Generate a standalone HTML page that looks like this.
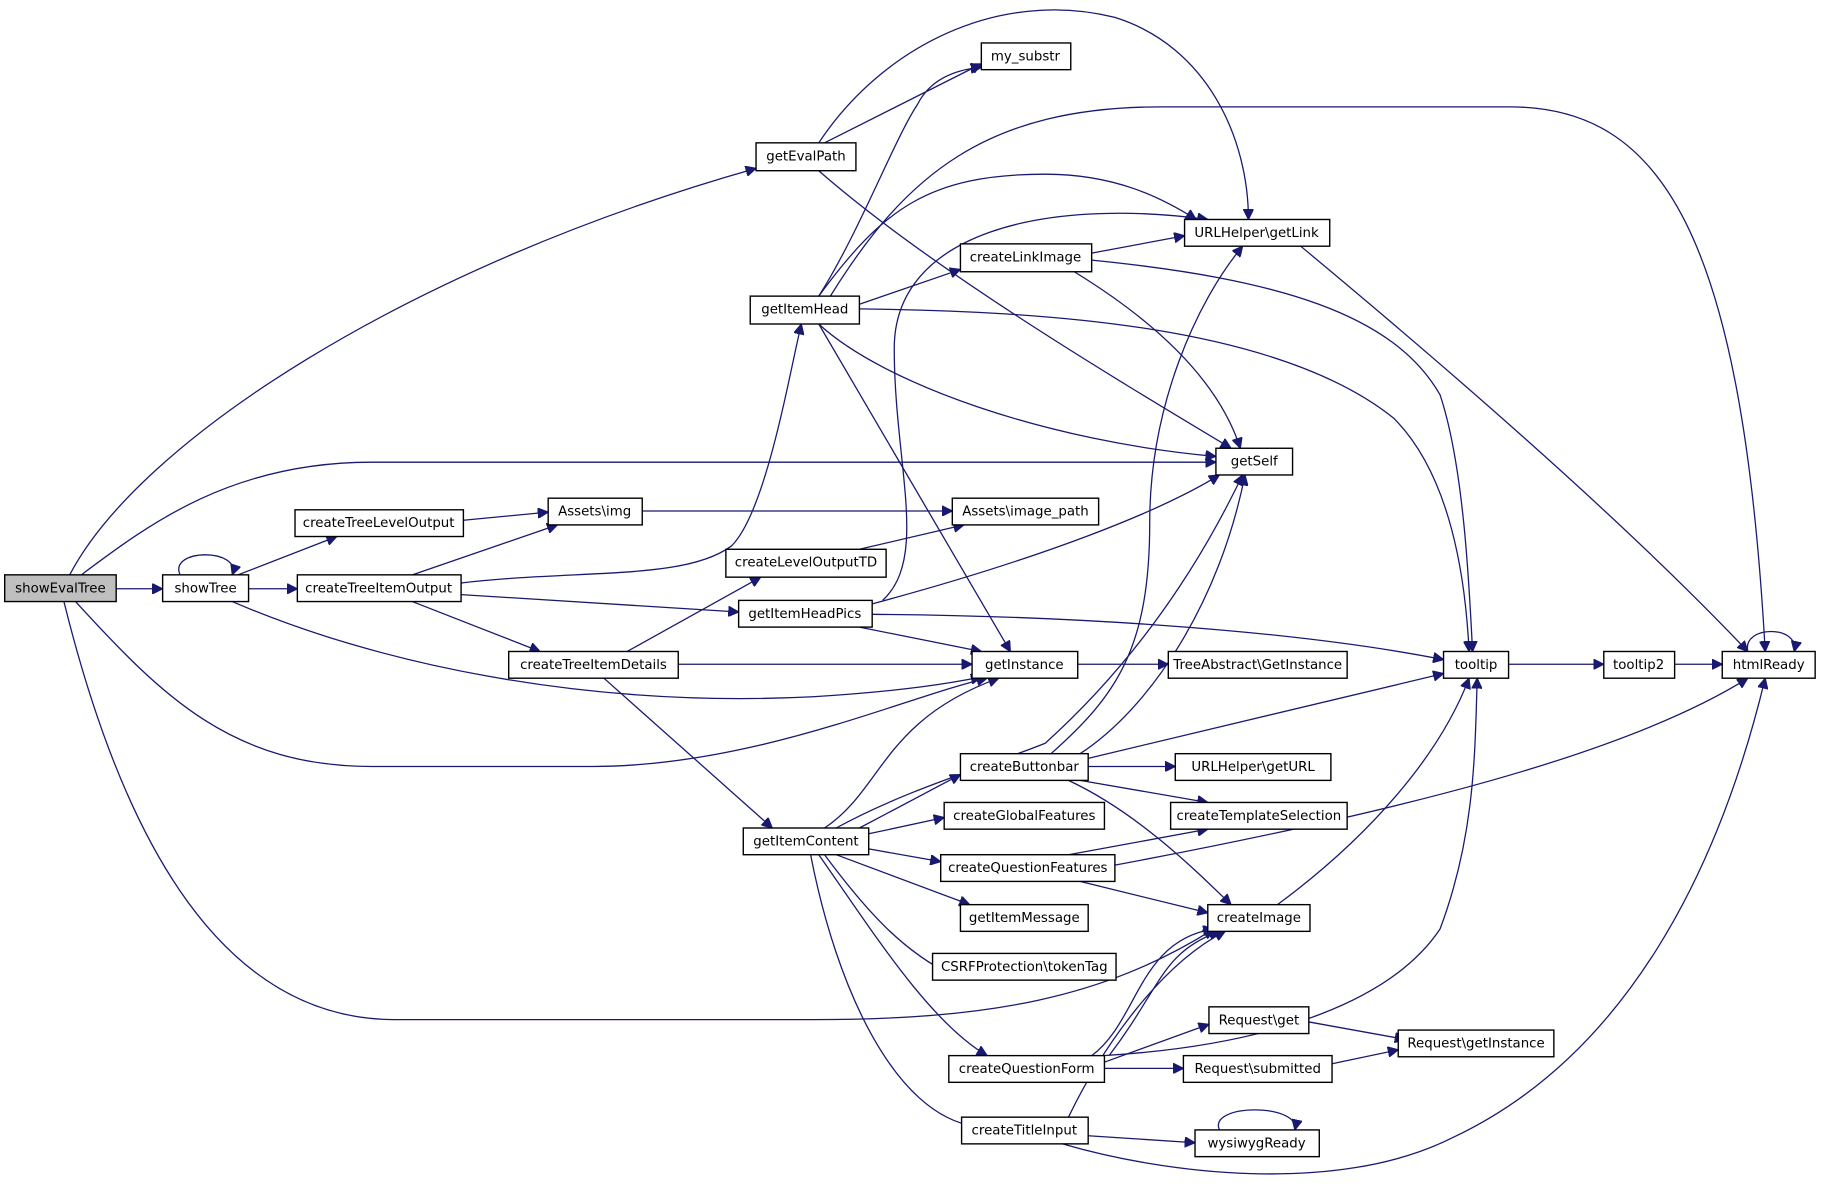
<!DOCTYPE html>
<html><head><meta charset="utf-8"><style>
html,body{margin:0;padding:0;background:#fff;}
svg{display:block}
text{font-family:"DejaVu Sans","Liberation Sans",sans-serif;font-size:11.5px;fill:#000;text-anchor:middle;dominant-baseline:central}
rect{fill:#fff;stroke:#000;stroke-width:1.2}
path{fill:none;stroke:#191970;stroke-width:1.1}
</style></head><body>
<svg width="1821" height="1188" viewBox="0 0 1568 1023" xmlns="http://www.w3.org/2000/svg">
<defs><marker id="a" viewBox="0 0 10 10" refX="10" refY="5" markerWidth="9" markerHeight="9" markerUnits="userSpaceOnUse" orient="auto"><path d="M0,0 L10,5 L0,10 z" style="fill:#191970;stroke:#191970"/></marker></defs>
<g marker-end="url(#a)">
<path d="M100,507 L140,507"/>
<path d="M60,495 C120,380 350,230 651,145"/>
<path d="M70,495 C130,450 200,398 320,398 L1047,398"/>
<path d="M65,518 C140,600 200,660 320,660 L510,660 C650,660 780,600 850,584"/>
<path d="M55,518 C100,700 180,878 340,878 L700,878 C850,878 950,860 1045,800"/>
<path d="M155,495 C145,472 208,472 200,495"/>
<path d="M205,495 L290,462"/>
<path d="M214,507 L256,507"/>
<path d="M200,518 C320,570 500,610 700,600 C780,595 820,588 845,583"/>
<path d="M399,448 L472,441"/>
<path d="M355,495 L480,452"/>
<path d="M397,502 C500,490 590,500 630,470 C660,440 680,320 690,279"/>
<path d="M397,512 L636,527"/>
<path d="M355,518 L465,561"/>
<path d="M553,440 L820,440"/>
<path d="M740,473 L830,452"/>
<path d="M540,561 L655,497"/>
<path d="M584,572 L837,572"/>
<path d="M520,584 L665,713"/>
<path d="M710,123 L845,55"/>
<path d="M705,147 C800,230 950,320 1060,386"/>
<path d="M705,123 C760,40 860,-10 960,15 C1040,40 1075,120 1075,189"/>
<path d="M705,255 C740,200 770,120 790,90 C800,70 820,60 845,58"/>
<path d="M715,255 C780,150 850,92 1000,92 L1300,92 C1430,92 1500,200 1520,561"/>
<path d="M705,255 C760,180 800,150 900,150 C960,150 1000,170 1030,189"/>
<path d="M740,262 L827,232"/>
<path d="M705,279 C760,330 900,380 1047,393"/>
<path d="M740,266 C900,268 1100,280 1200,360 C1250,410 1262,500 1265,561"/>
<path d="M705,279 L870,561"/>
<path d="M940,218 L1020,203"/>
<path d="M925,234 C1000,280 1050,330 1068,386"/>
<path d="M940,224 C1100,240 1200,270 1240,340 C1260,400 1265,500 1268,561"/>
<path d="M760,517 C800,480 770,400 770,300 C770,200 900,170 1040,189"/>
<path d="M751,520 C900,480 1000,440 1050,409"/>
<path d="M751,529 C900,530 1100,540 1243,568"/>
<path d="M740,540 L845,561"/>
<path d="M928,572 L1006,572"/>
<path d="M1120,212 C1250,320 1400,450 1505,561"/>
<path d="M1299,572 L1381,572"/>
<path d="M1442,572 L1483,572"/>
<path d="M1505,561 C1500,538 1550,538 1545,561"/>
<path d="M905,649 C960,600 990,560 990,450 C990,350 1030,260 1070,212"/>
<path d="M720,713 C780,680 850,660 900,640 C1000,550 1050,450 1070,409"/>
<path d="M930,649 C990,610 1050,520 1072,409"/>
<path d="M937,653 L1243,580"/>
<path d="M937,660 L1012,660"/>
<path d="M930,672 L1040,691"/>
<path d="M920,672 C980,700 1030,750 1060,779"/>
<path d="M710,713 C760,680 760,620 860,584"/>
<path d="M740,713 L827,667"/>
<path d="M748,718 L813,704"/>
<path d="M748,731 L810,742"/>
<path d="M720,736 L835,779"/>
<path d="M710,736 C750,790 780,820 820,840"/>
<path d="M705,736 C750,800 800,880 850,909"/>
<path d="M698,736 C720,850 770,960 840,970"/>
<path d="M920,736 L1040,714"/>
<path d="M960,745 C1200,700 1400,650 1505,584"/>
<path d="M930,759 L1040,786"/>
<path d="M1100,779 C1180,720 1240,650 1265,584"/>
<path d="M940,909 C980,880 980,810 1045,800"/>
<path d="M955,909 C1000,850 1000,820 1050,802"/>
<path d="M950,909 C1100,900 1200,860 1240,800 C1270,720 1270,650 1272,584"/>
<path d="M950,915 L1041,882"/>
<path d="M951,920 L1019,920"/>
<path d="M1127,880 L1210,895"/>
<path d="M1147,916 L1204,904"/>
<path d="M920,962 C950,900 1000,830 1055,802"/>
<path d="M937,978 L1029,984"/>
<path d="M915,985 C1000,1010 1150,1030 1250,980 C1400,910 1480,750 1520,584"/>
<path d="M1050,973 C1040,950 1120,950 1115,973"/>
</g>
<g>
<rect x="4" y="495" width="96" height="23" style="fill:#bfbfbf"/><text x="52" y="507">showEvalTree</text>
<rect x="140" y="495" width="74" height="23"/><text x="177" y="507">showTree</text>
<rect x="254" y="439" width="145" height="23"/><text x="326" y="451">createTreeLevelOutput</text>
<rect x="256" y="495" width="141" height="23"/><text x="326" y="507">createTreeItemOutput</text>
<rect x="472" y="429" width="81" height="23"/><text x="512" y="441">Assets\img</text>
<rect x="651" y="123" width="86" height="24"/><text x="694" y="135">getEvalPath</text>
<rect x="845" y="37" width="77" height="23"/><text x="883" y="49">my_substr</text>
<rect x="646" y="255" width="94" height="24"/><text x="693" y="267">getItemHead</text>
<rect x="827" y="210" width="113" height="24"/><text x="883" y="222">createLinkImage</text>
<rect x="1020" y="189" width="125" height="23"/><text x="1082" y="201">URLHelper\getLink</text>
<rect x="1047" y="386" width="66" height="23"/><text x="1080" y="398">getSelf</text>
<rect x="820" y="429" width="126" height="23"/><text x="883" y="441">Assets\image_path</text>
<rect x="625" y="473" width="138" height="24"/><text x="694" y="485">createLevelOutputTD</text>
<rect x="636" y="517" width="115" height="23"/><text x="693" y="529">getItemHeadPics</text>
<rect x="438" y="561" width="146" height="23"/><text x="511" y="573">createTreeItemDetails</text>
<rect x="837" y="561" width="91" height="23"/><text x="882" y="573">getInstance</text>
<rect x="1006" y="561" width="154" height="23"/><text x="1083" y="573">TreeAbstract\GetInstance</text>
<rect x="1243" y="561" width="56" height="23"/><text x="1271" y="573">tooltip</text>
<rect x="1381" y="561" width="61" height="23"/><text x="1411" y="573">tooltip2</text>
<rect x="1483" y="561" width="80" height="23"/><text x="1523" y="573">htmlReady</text>
<rect x="827" y="649" width="110" height="23"/><text x="882" y="661">createButtonbar</text>
<rect x="1012" y="649" width="134" height="23"/><text x="1079" y="661">URLHelper\getURL</text>
<rect x="1008" y="691" width="152" height="23"/><text x="1084" y="703">createTemplateSelection</text>
<rect x="813" y="691" width="138" height="23"/><text x="882" y="703">createGlobalFeatures</text>
<rect x="640" y="713" width="108" height="23"/><text x="694" y="725">getItemContent</text>
<rect x="810" y="736" width="150" height="23"/><text x="885" y="748">createQuestionFeatures</text>
<rect x="1040" y="779" width="88" height="23"/><text x="1084" y="791">createImage</text>
<rect x="827" y="779" width="110" height="23"/><text x="882" y="791">getItemMessage</text>
<rect x="803" y="821" width="158" height="23"/><text x="882" y="833">CSRFProtection\tokenTag</text>
<rect x="1041" y="867" width="86" height="23"/><text x="1084" y="879">Request\get</text>
<rect x="1204" y="887" width="134" height="23"/><text x="1271" y="899">Request\getInstance</text>
<rect x="817" y="909" width="134" height="23"/><text x="884" y="921">createQuestionForm</text>
<rect x="1019" y="909" width="128" height="23"/><text x="1083" y="921">Request\submitted</text>
<rect x="828" y="962" width="109" height="23"/><text x="882" y="974">createTitleInput</text>
<rect x="1029" y="973" width="107" height="23"/><text x="1082" y="985">wysiwygReady</text>
</g>
</svg>
</body></html>
